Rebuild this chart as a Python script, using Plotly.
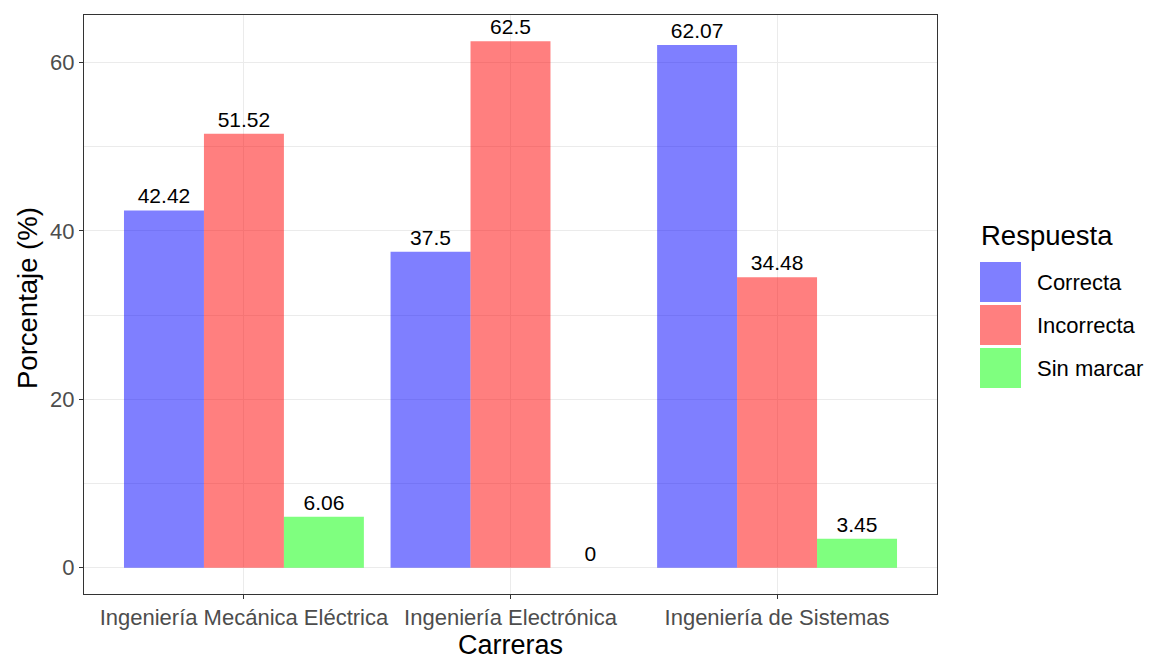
import plotly.graph_objects as go

carreras = ["Ingeniería Mecánica Eléctrica", "Ingeniería Electrónica", "Ingeniería de Sistemas"]
respuestas = ["Correcta", "Incorrecta", "Sin marcar"]
correcta = [42.42, 37.5, 62.07]
incorrecta = [51.52, 62.5, 34.48]
sin_marcar = [6.06, 0, 3.45]
valores = [correcta, incorrecta, sin_marcar]
colores = ["rgba(0,0,255,0.5)", "rgba(255,0,0,0.5)", "rgba(0,255,0,0.5)"]
y_ticks = [0, 20, 40, 60]

FONT = "Liberation Sans, Arial, sans-serif"

fig = go.Figure()
for name, vals, col in zip(respuestas, valores, colores):
    fig.add_trace(go.Bar(
        x=carreras, y=vals, name=name,
        marker=dict(color=col, line=dict(width=0)),
        text=[f"{v:g}" for v in vals],
        textposition="outside",
        textfont=dict(family=FONT, size=21, color="black"),
        cliponaxis=False,
        showlegend=False,
    ))

L, R, T, B = 84, 219, 15, 66
W, H = 1156, 660
pw, ph = W - L - R, H - T - B

def px_x(x):
    return (x - L) / pw

def px_y(y):
    return (H - B - y) / ph

fig.update_layout(
    width=W, height=H,
    margin=dict(l=L, r=R, t=T, b=B, pad=0),
    paper_bgcolor="white", plot_bgcolor="white",
    barmode="group", bargap=0.1, bargroupgap=0,
    font=dict(family=FONT, color="#4D4D4D"),
    xaxis=dict(
        type="category", range=[-0.6, 2.6],
        showgrid=True, gridcolor="#EBEBEB", gridwidth=1.1,
        showline=True, linecolor="#333333", linewidth=1.1, mirror=True,
        ticks="outside", ticklen=4, tickcolor="#333333", tickwidth=1.1,
        tickfont=dict(size=22, color="#4D4D4D"),
        zeroline=False,
    ),
    yaxis=dict(
        range=[-3.125, 65.625],
        tickmode="array", tickvals=y_ticks, ticktext=[str(t) for t in y_ticks],
        showgrid=True, gridcolor="#EBEBEB", gridwidth=1.1,
        minor=dict(dtick=10, tick0=0, showgrid=True, gridcolor="#EBEBEB", gridwidth=0.6),
        showline=True, linecolor="#333333", linewidth=1.1, mirror=True,
        ticks="outside", ticklen=4, tickcolor="#333333", tickwidth=1.1,
        tickfont=dict(size=22, color="#4D4D4D"),
        zeroline=False,
    ),
)

annotations = [
    dict(text="Carreras", xref="paper", yref="paper", x=0.5, y=px_y(645),
         xanchor="center", yanchor="middle", showarrow=False,
         font=dict(family=FONT, size=27, color="black")),
    dict(text="Porcentaje (%)", xref="paper", yref="paper", x=px_x(27), y=px_y(298),
         xanchor="center", yanchor="middle", textangle=-90, showarrow=False,
         font=dict(family=FONT, size=27.5, color="black")),
    dict(text="Respuesta", xref="paper", yref="paper", x=px_x(979), y=px_y(236),
         xanchor="left", yanchor="middle", showarrow=False,
         font=dict(family=FONT, size=27.5, color="black")),
]
shapes = []
key_tops = [262, 305, 348]
for name, col, top in zip(respuestas, colores, key_tops):
    shapes.append(dict(type="rect", xref="paper", yref="paper",
                       x0=px_x(980), x1=px_x(1021), y0=px_y(top + 40), y1=px_y(top),
                       fillcolor=col, line=dict(width=0), layer="above"))
    annotations.append(dict(text=name, xref="paper", yref="paper", x=px_x(1035), y=px_y(top + 20),
                            xanchor="left", yanchor="middle", showarrow=False,
                            font=dict(family=FONT, size=22, color="black")))

fig.update_layout(annotations=annotations, shapes=shapes)
fig.write_html("out.html", config={"displayModeBar": False},
               post_script="document.body.style.margin='0px';document.body.style.overflow='hidden';")
